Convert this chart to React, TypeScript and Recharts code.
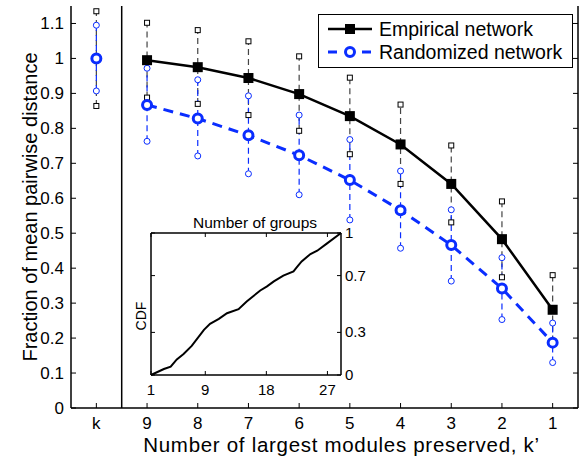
import React from 'react';
import { ComposedChart, LineChart, Line, XAxis, YAxis, ReferenceLine } from 'recharts';

const categories = ['k', '9', '8', '7', '6', '5', '4', '3', '2', '1'];
const empirical = [null, 0.995, 0.975, 0.944, 0.898, 0.835, 0.754, 0.641, 0.483, 0.281];
const randomized = [1.0, 0.867, 0.828, 0.78, 0.723, 0.652, 0.566, 0.466, 0.342, 0.187];
const empiricalLow = [0.864, 0.888, 0.87, 0.838, 0.793, 0.726, 0.641, 0.531, 0.374, 0.19];
const empiricalHigh = [1.135, 1.102, 1.081, 1.049, 1.006, 0.945, 0.868, 0.751, 0.591, 0.38];
const randomizedLow = [0.907, 0.763, 0.721, 0.67, 0.61, 0.538, 0.457, 0.363, 0.253, 0.13];
const randomizedHigh = [1.095, 0.972, 0.939, 0.893, 0.838, 0.768, 0.678, 0.567, 0.43, 0.243];
const yTicks = [0, 0.1, 0.2, 0.3, 0.4, 0.5, 0.6, 0.7, 0.8, 0.9, 1, 1.1];

const cdfGroups = [1, 2.9, 3.9, 4.8, 5.8, 7.0, 8.8, 9.7, 11.0, 12.2, 13.9, 15.1, 17.1, 18.1, 19.1, 20.5, 22.0, 22.5, 23.2, 24.5, 25.5, 26.9, 29];
const cdfValues = [0, 0.042, 0.059, 0.11, 0.148, 0.205, 0.318, 0.36, 0.395, 0.435, 0.464, 0.518, 0.595, 0.624, 0.659, 0.7, 0.73, 0.759, 0.8, 0.852, 0.875, 0.925, 1.0];
const insetXTicks = [1, 9, 18, 27];
const insetYTicks = [0, 0.3, 0.7, 1];

const FONT = '"Liberation Sans", Arial, Helvetica, sans-serif';
const BLUE = '#0a2dff';

const xIdx = categories.map((_, i) => i);
const mainData = categories.map((c, i) => ({
  x: i,
  emp: empirical[i],
  rand: i === 0 ? null : randomized[i],
  randK: i === 0 ? randomized[i] : null,
}));
const errEmp = categories.flatMap((_, i) => [
  { x: i, v: empiricalLow[i] },
  { x: i, v: empiricalHigh[i] },
  { x: i, v: null },
]);
const errRand = categories.flatMap((_, i) => [
  { x: i, v: randomizedLow[i] },
  { x: i, v: randomizedHigh[i] },
  { x: i, v: null },
]);
const cdfData = cdfGroups.map((g, i) => ({ g, c: cdfValues[i] }));

const fmtY = (v: number) => (v === 0 ? '0' : v === 1 ? '1' : v.toFixed(1));

const BottomTick = (props: any) => {
  const { x, y, payload } = props;
  return (
    <g>
      <line x1={x} y1={y} x2={x} y2={y - 5} stroke="#000" strokeWidth={1} />
      <text x={x} y={y + 21} textAnchor="middle" fontSize={17} fontFamily={FONT} fill="#000">
        {categories[payload.value]}
      </text>
    </g>
  );
};
const TopTick = (props: any) => {
  const { x, y } = props;
  return <line x1={x} y1={y} x2={x} y2={y + 5} stroke="#000" strokeWidth={1} />;
};
const LeftTick = (props: any) => {
  const { x, y, payload } = props;
  return (
    <g>
      <line x1={x} y1={y} x2={x + 5} y2={y} stroke="#000" strokeWidth={1} />
      <text x={x - 7} y={y + 6} textAnchor="end" fontSize={17} fontFamily={FONT} fill="#000">
        {fmtY(payload.value)}
      </text>
    </g>
  );
};
const RightTick = (props: any) => {
  const { x, y } = props;
  return <line x1={x} y1={y} x2={x - 5} y2={y} stroke="#000" strokeWidth={1} />;
};

// inset ticks
const InsetBottomTick = (props: any) => {
  const { x, y, payload } = props;
  return (
    <g>
      <line x1={x} y1={y} x2={x} y2={y - 4} stroke="#000" strokeWidth={1} />
      <text x={x} y={y + 20} textAnchor="middle" fontSize={15} fontFamily={FONT} fill="#000">
        {payload.value}
      </text>
    </g>
  );
};
const InsetTopTick = (props: any) => {
  const { x, y } = props;
  return <line x1={x} y1={y} x2={x} y2={y + 4} stroke="#000" strokeWidth={1} />;
};
const InsetLeftTick = (props: any) => {
  const { x, y } = props;
  return <line x1={x} y1={y} x2={x + 4} y2={y} stroke="#000" strokeWidth={1} />;
};
const InsetRightTick = (props: any) => {
  const { x, y, payload } = props;
  return (
    <g>
      <line x1={x} y1={y} x2={x - 4} y2={y} stroke="#000" strokeWidth={1} />
      <text x={x + 4} y={y + 5} textAnchor="start" fontSize={15} fontFamily={FONT} fill="#000">
        {payload.value === 0 ? '0' : payload.value === 1 ? '1' : payload.value.toFixed(1)}
      </text>
    </g>
  );
};

const sqDot = (size: number, fill: string, stroke: string, sw: number) => (props: any) => {
  const { cx, cy, index, value } = props;
  if (cy == null || value == null || isNaN(cy)) return <g key={`s${index}`} />;
  return (
    <rect key={`s${index}`} x={cx - size / 2} y={cy - size / 2} width={size} height={size} fill={fill} stroke={stroke} strokeWidth={sw} />
  );
};
const circDot = (r: number, stroke: string, sw: number) => (props: any) => {
  const { cx, cy, index, value } = props;
  if (cy == null || value == null || isNaN(cy)) return <g key={`c${index}`} />;
  return <circle key={`c${index}`} cx={cx} cy={cy} r={r} fill="#fff" stroke={stroke} strokeWidth={sw} />;
};

const axisStroke = { stroke: '#000', strokeWidth: 1.5 };

export default function App() {
  return (
    <div style={{ position: 'absolute', left: 0, top: 0, width: 581, height: 457, background: '#fff', fontFamily: FONT }}>
      <ComposedChart width={581} height={457} data={mainData} margin={{ top: 6, right: 0, bottom: 0, left: 0 }}>
        <XAxis
          xAxisId="b"
          dataKey="x"
          type="number"
          domain={[-0.5, 9.5]}
          ticks={xIdx}
          interval={0}
          height={49}
          tickSize={0}
          tickMargin={0}
          tickLine={false}
          axisLine={axisStroke}
          tick={<BottomTick />}
          label={{
            content: (p: any) => {
              const vb = p.viewBox;
              return (
                <text x={vb.x + vb.width / 2 + 17} y={vb.y + 44} textAnchor="middle" fontSize={20.5} letterSpacing={0.7} fontFamily={FONT} fill="#000">
                  Number of largest modules preserved, k’
                </text>
              );
            },
          }}
        />
        <XAxis
          xAxisId="t"
          orientation="top"
          dataKey="x"
          type="number"
          domain={[-0.5, 9.5]}
          ticks={xIdx}
          interval={0}
          height={0}
          tickSize={0}
          tickMargin={0}
          tickLine={false}
          axisLine={axisStroke}
          tick={<TopTick />}
        />
        <YAxis
          yAxisId="l"
          type="number"
          domain={[0, 1.15]}
          ticks={yTicks}
          interval={0}
          width={71}
          tickSize={0}
          tickMargin={0}
          tickLine={false}
          axisLine={axisStroke}
          tick={<LeftTick />}
          label={{
            content: (p: any) => {
              const vb = p.viewBox;
              const cx = vb.x + 30;
              const cy = vb.y + vb.height / 2;
              return (
                <text x={cx} y={cy} transform={`rotate(-90, ${cx}, ${cy})`} textAnchor="middle" dominantBaseline="central" fontSize={20} fontFamily={FONT} fill="#000">
                  Fraction of mean pairwise distance
                </text>
              );
            },
          }}
        />
        <YAxis
          yAxisId="r"
          orientation="right"
          type="number"
          domain={[0, 1.15]}
          ticks={yTicks}
          interval={0}
          width={3}
          tickSize={0}
          tickMargin={0}
          tickLine={false}
          axisLine={axisStroke}
          tick={<RightTick />}
        />
        <ReferenceLine xAxisId="b" yAxisId="l" x={0.5} stroke="#000" strokeWidth={1.5} />
        <Line
          xAxisId="t"
          yAxisId="r"
          dataKey="emp"
          stroke="none"
          dot={false}
          activeDot={false}
          legendType="none"
          isAnimationActive={false}
        />
        <Line
          xAxisId="b"
          yAxisId="l"
          data={errEmp}
          dataKey="v"
          stroke="#444"
          strokeWidth={1.2}
          strokeDasharray="6 4"
          connectNulls={false}
          dot={sqDot(5, '#fff', '#000', 1)}
          activeDot={false}
          legendType="none"
          isAnimationActive={false}
        />
        <Line
          xAxisId="b"
          yAxisId="l"
          data={errRand}
          dataKey="v"
          stroke={BLUE}
          strokeWidth={1.2}
          strokeDasharray="6 4"
          connectNulls={false}
          dot={circDot(3, BLUE, 1)}
          activeDot={false}
          legendType="none"
          isAnimationActive={false}
        />
        <Line
          xAxisId="b"
          yAxisId="l"
          dataKey="rand"
          name="Randomized network"
          stroke={BLUE}
          strokeWidth={3}
          strokeDasharray="10 7"
          connectNulls={false}
          dot={circDot(4.5, BLUE, 3)}
          activeDot={false}
          isAnimationActive={false}
        />
        <Line
          xAxisId="b"
          yAxisId="l"
          dataKey="randK"
          stroke="none"
          connectNulls={false}
          dot={circDot(4.5, BLUE, 3)}
          activeDot={false}
          legendType="none"
          isAnimationActive={false}
        />
        <Line
          xAxisId="b"
          yAxisId="l"
          dataKey="emp"
          name="Empirical network"
          stroke="#000"
          strokeWidth={2.5}
          connectNulls={false}
          dot={sqDot(10, '#000', '#000', 0)}
          activeDot={false}
          isAnimationActive={false}
        />
      </ComposedChart>

      <div style={{ position: 'absolute', left: 110, top: 205 }}>
        <LineChart width={271} height={200} data={cdfData} margin={{ top: 0, right: 0, bottom: 0, left: 0 }}>
          <XAxis
            xAxisId="b"
            dataKey="g"
            type="number"
            domain={[1, 29]}
            ticks={insetXTicks}
            interval={0}
            height={30}
            tickSize={0}
            tickMargin={0}
            tickLine={false}
            axisLine={axisStroke}
            tick={<InsetBottomTick />}
          />
          <XAxis
            xAxisId="t"
            orientation="top"
            dataKey="g"
            type="number"
            domain={[1, 29]}
            ticks={insetXTicks}
            interval={0}
            height={28}
            tickSize={0}
            tickMargin={0}
            tickLine={false}
            axisLine={axisStroke}
            tick={<InsetTopTick />}
            label={{
              content: (p: any) => {
                const vb = p.viewBox;
                return (
                  <text x={vb.x + vb.width / 2 + 9} y={vb.y + 23} textAnchor="middle" fontSize={15.5} fontFamily={FONT} fill="#000">
                    Number of groups
                  </text>
                );
              },
            }}
          />
          <YAxis
            yAxisId="l"
            type="number"
            domain={[0, 1]}
            ticks={insetYTicks}
            interval={0}
            width={41}
            tickSize={0}
            tickMargin={0}
            tickLine={false}
            axisLine={axisStroke}
            tick={<InsetLeftTick />}
            label={{
              content: (p: any) => {
                const vb = p.viewBox;
                const cx = vb.x + 31;
                const cy = vb.y + vb.height / 2 + 12;
                return (
                  <text x={cx} y={cy} transform={`rotate(-90, ${cx}, ${cy})`} textAnchor="middle" dominantBaseline="central" fontSize={14} fontFamily={FONT} fill="#000">
                    CDF
                  </text>
                );
              },
            }}
          />
          <YAxis
            yAxisId="r"
            orientation="right"
            type="number"
            domain={[0, 1]}
            ticks={insetYTicks}
            interval={0}
            width={40}
            tickSize={0}
            tickMargin={0}
            tickLine={false}
            axisLine={axisStroke}
            tick={<InsetRightTick />}
          />
          <Line
            xAxisId="t"
            yAxisId="r"
            dataKey="c"
            stroke="none"
            dot={false}
            activeDot={false}
            isAnimationActive={false}
          />
          <Line
            xAxisId="b"
            yAxisId="l"
            dataKey="c"
            type="linear"
            stroke="#000"
            strokeWidth={2}
            dot={false}
            activeDot={false}
            isAnimationActive={false}
          />
        </LineChart>
      </div>

      <div
        style={{
          position: 'absolute',
          left: 318,
          top: 14,
          width: 255,
          height: 54,
          border: '1.5px solid #000',
          boxSizing: 'border-box',
          background: '#fff',
        }}
      >
        <div style={{ position: 'absolute', left: 8, top: 2, height: 24, display: 'flex', alignItems: 'center' }}>
          <svg width={46} height={24} style={{ display: 'block' }}>
            <line x1={1} y1={12} x2={45} y2={12} stroke="#000" strokeWidth={2.5} />
            <rect x={18} y={7} width={10} height={10} fill="#000" />
          </svg>
          <span style={{ marginLeft: 6, fontSize: 19.5, lineHeight: '24px', color: '#000', whiteSpace: 'nowrap' }}>Empirical network</span>
        </div>
        <div style={{ position: 'absolute', left: 8, top: 25, height: 24, display: 'flex', alignItems: 'center' }}>
          <svg width={46} height={24} style={{ display: 'block' }}>
            <line x1={1} y1={12} x2={45} y2={12} stroke={BLUE} strokeWidth={3} strokeDasharray="9 8" />
            <circle cx={23} cy={12} r={4.5} fill="#fff" stroke={BLUE} strokeWidth={3} />
          </svg>
          <span style={{ marginLeft: 6, fontSize: 19.5, lineHeight: '24px', color: '#000', whiteSpace: 'nowrap' }}>Randomized network</span>
        </div>
      </div>
    </div>
  );
}
